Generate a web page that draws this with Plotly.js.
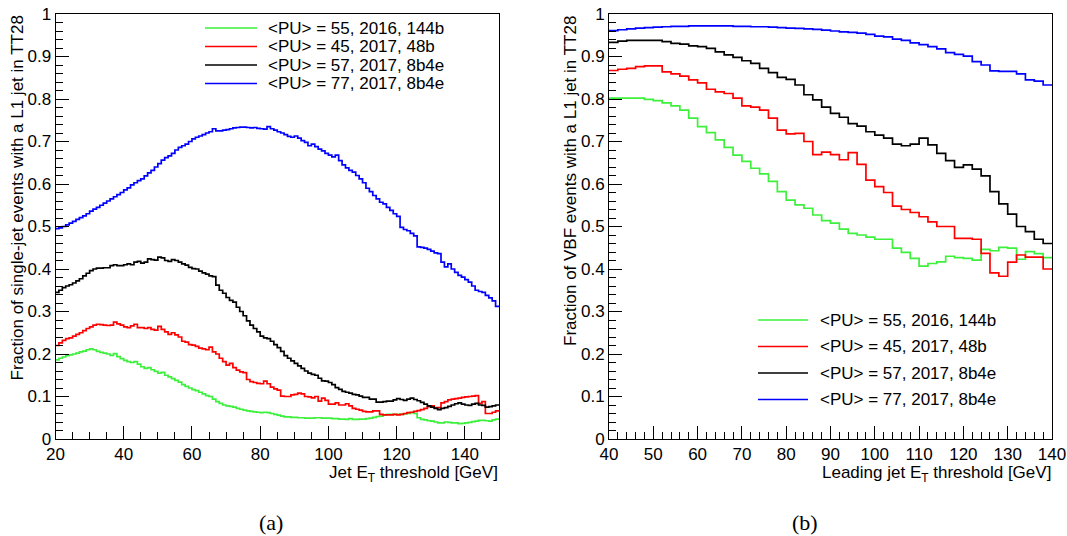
<!DOCTYPE html>
<html><head><meta charset="utf-8">
<script src="https://cdn.plot.ly/plotly-3.0.1.min.js"></script>
<style>html,body{margin:0;padding:0;background:#fff;} #chart{width:1067px;height:536px;}</style>
</head><body><div id="chart"></div>
<script>
// ---------- data ----------
const seriesNames = ['&lt;PU&gt; = 55, 2016, 144b', '&lt;PU&gt; = 45, 2017, 48b', '&lt;PU&gt; = 57, 2017, 8b4e', '&lt;PU&gt; = 77, 2017, 8b4e'];
const seriesColors = ['#3cf03c', '#ff0000', '#000000', '#0000ff'];

// (a) single-jet, threshold bins of 1 GeV starting at 20 GeV
const leftStart = 20, leftBinWidth = 1;
const leftGreen = [
0.186,0.190,0.193,0.196,0.198,0.200,0.202,0.205,0.207,0.210,
0.212,0.210,0.206,0.204,0.202,0.200,0.197,0.201,0.194,0.189,
0.185,0.182,0.180,0.182,0.176,0.170,0.166,0.168,0.163,0.159,
0.155,0.157,0.150,0.146,0.142,0.138,0.134,0.128,0.124,0.120,
0.116,0.114,0.110,0.106,0.102,0.100,0.094,0.088,0.084,0.080,
0.078,0.077,0.075,0.072,0.070,0.068,0.066,0.065,0.064,0.063,
0.062,0.063,0.062,0.060,0.058,0.056,0.054,0.052,0.052,0.051,
0.051,0.050,0.050,0.049,0.049,0.049,0.050,0.050,0.049,0.049,
0.049,0.048,0.048,0.047,0.047,0.046,0.048,0.046,0.046,0.047,
0.047,0.048,0.049,0.051,0.053,0.054,0.056,0.058,0.058,0.058,
0.058,0.058,0.059,0.060,0.062,0.060,0.050,0.046,0.045,0.043,
0.042,0.040,0.038,0.038,0.040,0.039,0.038,0.038,0.036,0.037,
0.038,0.039,0.041,0.042,0.044,0.044,0.043,0.042,0.045,0.047];
const leftRed = [
0.220,0.226,0.232,0.236,0.238,0.242,0.246,0.250,0.255,0.260,
0.264,0.268,0.270,0.269,0.268,0.267,0.268,0.275,0.271,0.268,
0.264,0.262,0.266,0.270,0.262,0.262,0.260,0.262,0.258,0.256,
0.265,0.258,0.252,0.246,0.250,0.245,0.240,0.230,0.228,0.222,
0.221,0.218,0.214,0.212,0.210,0.216,0.205,0.200,0.190,0.182,
0.174,0.178,0.168,0.162,0.158,0.156,0.140,0.135,0.133,0.131,
0.130,0.136,0.130,0.122,0.118,0.115,0.101,0.100,0.100,0.104,
0.105,0.108,0.106,0.100,0.099,0.097,0.100,0.089,0.096,0.091,
0.082,0.082,0.085,0.080,0.080,0.083,0.078,0.072,0.070,0.068,
0.065,0.064,0.064,0.066,0.066,0.058,0.057,0.057,0.057,0.058,
0.057,0.058,0.060,0.062,0.063,0.065,0.067,0.069,0.072,0.076,
0.078,0.074,0.074,0.085,0.088,0.092,0.094,0.095,0.096,0.098,
0.099,0.100,0.101,0.102,0.084,0.088,0.060,0.060,0.063,0.066];
const leftBlack = [
0.345,0.350,0.356,0.360,0.363,0.367,0.372,0.377,0.384,0.390,
0.396,0.400,0.402,0.402,0.403,0.403,0.408,0.410,0.408,0.408,
0.410,0.412,0.410,0.416,0.418,0.414,0.416,0.424,0.422,0.421,
0.428,0.426,0.420,0.418,0.422,0.420,0.416,0.412,0.409,0.404,
0.401,0.400,0.395,0.391,0.388,0.384,0.382,0.362,0.350,0.343,
0.333,0.326,0.322,0.310,0.300,0.290,0.278,0.268,0.260,0.252,
0.242,0.238,0.236,0.230,0.222,0.215,0.206,0.196,0.190,0.184,
0.178,0.172,0.166,0.160,0.155,0.152,0.150,0.143,0.137,0.136,
0.133,0.128,0.121,0.117,0.112,0.110,0.108,0.105,0.104,0.101,
0.098,0.098,0.094,0.094,0.087,0.087,0.088,0.089,0.089,0.092,
0.095,0.093,0.091,0.094,0.096,0.093,0.090,0.086,0.082,0.078,
0.075,0.072,0.069,0.072,0.074,0.077,0.080,0.083,0.085,0.082,
0.080,0.079,0.082,0.084,0.080,0.079,0.075,0.076,0.078,0.080];
const leftBlue = [
0.495,0.497,0.500,0.504,0.508,0.512,0.517,0.521,0.525,0.530,
0.536,0.541,0.545,0.550,0.555,0.560,0.565,0.570,0.575,0.580,
0.586,0.591,0.598,0.603,0.608,0.612,0.619,0.626,0.632,0.640,
0.648,0.656,0.662,0.666,0.672,0.680,0.686,0.690,0.694,0.700,
0.706,0.710,0.713,0.716,0.720,0.723,0.730,0.725,0.725,0.727,
0.728,0.730,0.732,0.733,0.734,0.734,0.733,0.732,0.733,0.731,
0.730,0.729,0.735,0.730,0.727,0.723,0.720,0.716,0.712,0.710,
0.713,0.708,0.702,0.698,0.690,0.694,0.688,0.682,0.678,0.672,
0.668,0.664,0.668,0.655,0.645,0.638,0.632,0.628,0.620,0.612,
0.603,0.590,0.582,0.573,0.565,0.557,0.553,0.545,0.538,0.530,
0.524,0.498,0.493,0.490,0.484,0.478,0.452,0.451,0.449,0.446,
0.442,0.438,0.436,0.416,0.405,0.412,0.400,0.392,0.385,0.381,
0.375,0.369,0.360,0.350,0.347,0.345,0.338,0.332,0.325,0.312];

// (b) VBF, leading-jet threshold bins of 2 GeV starting at 40 GeV
const rightStart = 40, rightBinWidth = 2;
const rightGreen = [
0.802,0.802,0.802,0.802,0.799,0.796,0.791,0.784,0.774,0.755,
0.735,0.721,0.704,0.686,0.668,0.653,0.637,0.624,0.606,0.582,
0.562,0.551,0.543,0.527,0.514,0.508,0.494,0.484,0.480,0.475,
0.470,0.470,0.449,0.439,0.425,0.407,0.413,0.417,0.430,0.427,
0.425,0.421,0.446,0.443,0.451,0.449,0.423,0.441,0.436,0.427];
const rightRed = [
0.867,0.870,0.872,0.876,0.878,0.878,0.864,0.859,0.854,0.845,
0.838,0.823,0.817,0.813,0.802,0.784,0.781,0.774,0.755,0.727,
0.718,0.719,0.700,0.669,0.675,0.669,0.657,0.674,0.646,0.609,
0.594,0.580,0.548,0.540,0.533,0.523,0.511,0.500,0.500,0.472,
0.472,0.470,0.437,0.391,0.383,0.416,0.433,0.428,0.428,0.400];
const rightBlack = [
0.933,0.936,0.938,0.938,0.938,0.938,0.935,0.931,0.929,0.925,
0.923,0.919,0.911,0.904,0.898,0.890,0.884,0.872,0.862,0.851,
0.846,0.833,0.810,0.798,0.781,0.766,0.757,0.742,0.736,0.723,
0.715,0.708,0.694,0.690,0.694,0.708,0.692,0.672,0.655,0.639,
0.645,0.635,0.619,0.582,0.553,0.529,0.500,0.488,0.470,0.460];
const rightBlue = [
0.961,0.963,0.965,0.967,0.968,0.969,0.970,0.971,0.971,0.972,
0.972,0.972,0.972,0.972,0.971,0.971,0.970,0.970,0.969,0.968,
0.967,0.966,0.965,0.964,0.962,0.960,0.958,0.957,0.955,0.952,
0.948,0.946,0.941,0.938,0.932,0.928,0.923,0.918,0.909,0.905,
0.901,0.888,0.880,0.866,0.865,0.865,0.859,0.845,0.842,0.833];

const leftTitleY = 'Fraction of single-jet events with a L1 jet in TT28';
const rightTitleY = 'Fraction of VBF events with a L1 jet in TT28';
const leftTitleX = 'Jet E<sub>T</sub> threshold [GeV]';
const rightTitleX = 'Leading jet E<sub>T</sub> threshold [GeV]';

// ---------- helpers ----------
const W = 1067, H = 536;
const px = p => p / W;
const py = p => 1 - p / H;
const FS = 17;

function stepTrace(start, width, vals, color, name, xa, ya) {
  const x = [], y = [];
  vals.forEach((v, i) => { x.push(start + i * width); y.push(v); });
  x.push(start + vals.length * width); y.push(vals[vals.length - 1]);
  return { type: 'scatter', mode: 'lines', x, y, name, xaxis: xa, yaxis: ya,
    line: { shape: 'hv', color, width: 1.7 }, showlegend: false, hoverinfo: 'skip' };
}

const leftSeries = [leftGreen, leftRed, leftBlack, leftBlue];
const rightSeries = [rightGreen, rightRed, rightBlack, rightBlue];
const traces = [];
leftSeries.forEach((s, i) => traces.push(stepTrace(leftStart, leftBinWidth, s, seriesColors[i], seriesNames[i], 'x', 'y')));
rightSeries.forEach((s, i) => traces.push(stepTrace(rightStart, rightBinWidth, s, seriesColors[i], seriesNames[i], 'x2', 'y2')));

const FONT = 'Liberation Sans, Arial, Helvetica, sans-serif';
function axisBase(extra) {
  return Object.assign({
    showline: true, linecolor: '#000', linewidth: 1, mirror: true,
    ticks: 'inside', ticklen: 13, tickwidth: 1, tickcolor: '#000',
    showgrid: false, zeroline: false, fixedrange: true,
    tickfont: { family: FONT, size: FS, color: '#000' }
  }, extra);
}

const PLOT_TOP = 14, PLOT_BOTTOM = 439;
const layout = {
  width: W, height: H, margin: { l: 0, r: 0, t: 0, b: 0 },
  paper_bgcolor: '#fff', plot_bgcolor: '#fff', showlegend: false,
  font: { family: FONT, size: FS, color: '#000' },
  xaxis: axisBase({ domain: [px(55.5), px(499)], range: [20, 150], dtick: 20, tick0: 0, anchor: 'y',
    minor: { ticks: 'inside', ticklen: 7, tickcolor: '#000', dtick: 5, showgrid: false } }),
  yaxis: axisBase({ domain: [py(PLOT_BOTTOM), py(PLOT_TOP)], range: [0, 1], dtick: 0.1, anchor: 'x',
    minor: { ticks: 'inside', ticklen: 7, tickcolor: '#000', dtick: 0.02, showgrid: false } }),
  xaxis2: axisBase({ domain: [px(609), px(1052)], range: [40, 140], dtick: 10, tick0: 0, anchor: 'y2',
    minor: { ticks: 'inside', ticklen: 7, tickcolor: '#000', dtick: 2, showgrid: false } }),
  yaxis2: axisBase({ domain: [py(PLOT_BOTTOM), py(PLOT_TOP)], range: [0, 1], dtick: 0.1, anchor: 'x2',
    minor: { ticks: 'inside', ticklen: 7, tickcolor: '#000', dtick: 0.02, showgrid: false } }),
  shapes: [], annotations: []
};

// axis titles (ROOT style: right / top aligned)
const ann = layout.annotations;
ann.push({ text: leftTitleY, xref: 'paper', yref: 'paper', x: px(17), y: py(14), xanchor: 'center', yanchor: 'top', textangle: -90, showarrow: false, font: { family: FONT, size: FS } });
ann.push({ text: rightTitleY, xref: 'paper', yref: 'paper', x: px(570), y: py(14), xanchor: 'center', yanchor: 'top', textangle: -90, showarrow: false, font: { family: FONT, size: FS } });
ann.push({ text: leftTitleX, xref: 'paper', yref: 'paper', x: px(500), y: py(461), xanchor: 'right', yanchor: 'top', showarrow: false, font: { family: FONT, size: FS } });
ann.push({ text: rightTitleX, xref: 'paper', yref: 'paper', x: px(1053), y: py(461), xanchor: 'right', yanchor: 'top', showarrow: false, font: { family: FONT, size: FS } });
// captions
ann.push({ text: '(a)', xref: 'paper', yref: 'paper', x: px(271), y: py(522), xanchor: 'center', yanchor: 'middle', showarrow: false, font: { family: 'Liberation Serif, Times New Roman, serif', size: 22 } });
ann.push({ text: '(b)', xref: 'paper', yref: 'paper', x: px(805), y: py(522), xanchor: 'center', yanchor: 'middle', showarrow: false, font: { family: 'Liberation Serif, Times New Roman, serif', size: 22 } });

// legends
function addLegend(lineX0, lineX1, textX, rowsY) {
  seriesNames.forEach((n, i) => {
    layout.shapes.push({ type: 'line', xref: 'paper', yref: 'paper', x0: px(lineX0), x1: px(lineX1), y0: py(rowsY[i]), y1: py(rowsY[i]), line: { color: seriesColors[i], width: 1.7 } });
    ann.push({ text: n, xref: 'paper', yref: 'paper', x: px(textX), y: py(rowsY[i]), xanchor: 'left', yanchor: 'middle', showarrow: false, font: { family: FONT, size: FS } });
  });
}
addLegend(205, 257, 266, [28, 46.5, 65, 83.5]);
addLegend(758, 808, 818, [320, 346.5, 373, 399.5]);

Plotly.newPlot('chart', traces, layout, { staticPlot: true, displayModeBar: false });
</script>
</body></html>
